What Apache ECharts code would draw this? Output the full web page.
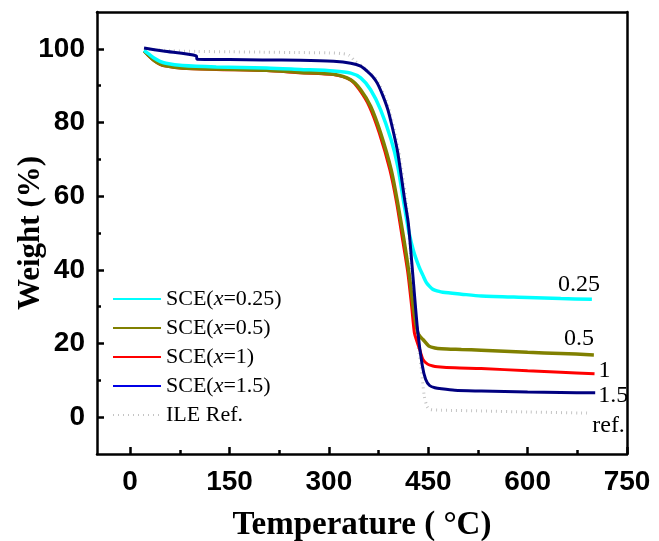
<!DOCTYPE html>
<html>
<head>
<meta charset="utf-8">
<script src="https://cdn.jsdelivr.net/npm/echarts@6/dist/echarts.min.js"></script>
<style>
  html, body { margin: 0; padding: 0; background: #fff; }
  #chart { width: 659px; height: 541px; }
</style>
</head>
<body>
<div id="chart"></div>
<script>
// Thermogravimetric curves: temperature (°C) vs remaining weight (%)
const sce025Temp   = [21, 28, 36, 45, 54, 79, 130, 206, 257, 307, 333, 348, 363, 378, 394, 404, 413, 421, 428, 436, 442, 447, 452, 457, 465, 472, 500, 530, 600, 650, 697];
const sce025Weight = [99.6, 98.6, 97.5, 96.6, 96.1, 95.5, 95.1, 94.8, 94.4, 94.0, 93.4, 92.1, 88.9, 83.5, 75.3, 68.1, 58.3, 50.1, 45.0, 40.9, 38.5, 36.6, 35.5, 34.7, 34.2, 33.9, 33.4, 32.9, 32.5, 32.2, 32.0];

const sce05Temp   = [21, 28, 36, 45, 54, 79, 130, 206, 257, 307, 333, 348, 363, 378, 394, 404, 413, 421, 428, 434, 438, 442, 451, 460, 470, 500, 530, 600, 650, 700];
const sce05Weight = [99.5, 98.2, 96.9, 95.9, 95.4, 94.8, 94.5, 94.2, 93.6, 93.1, 91.6, 88.9, 84.4, 77.2, 67.2, 58.0, 48.5, 39.0, 29.0, 23.0, 21.8, 21.1, 19.3, 18.8, 18.6, 18.4, 18.2, 17.6, 17.3, 16.9];

const sce1Temp   = [21, 28, 36, 45, 54, 79, 130, 206, 257, 307, 333, 346, 361, 376, 392, 402, 411, 419, 425, 429, 433, 437, 442, 449, 457, 464, 490, 530, 600, 650, 701];
const sce1Weight = [99.4, 98.1, 96.8, 95.8, 95.3, 94.7, 94.4, 94.1, 93.5, 93.0, 91.5, 88.9, 84.4, 77.2, 67.2, 58.5, 48.5, 39.5, 30.0, 23.0, 20.5, 18.4, 15.7, 14.4, 13.9, 13.7, 13.4, 13.2, 12.6, 12.2, 11.8];

const sce15Temp   = [21, 50, 100, 101, 150, 200, 257, 307, 333, 348, 358, 366, 373, 381, 389, 396, 404, 414, 420, 427, 434, 441, 446, 452, 460, 470, 490, 530, 600, 650, 702];
const sce15Weight = [100.2, 99.4, 98.1, 97.2, 97.1, 97.0, 96.9, 96.6, 96.1, 95.3, 93.9, 92.5, 90.7, 87.5, 83.5, 78.5, 71.8, 59.5, 52.5, 38.0, 23.5, 14.0, 10.3, 8.6, 8.0, 7.7, 7.3, 7.1, 6.8, 6.7, 6.6];

const ileTemp   = [21, 60, 100, 150, 200, 250, 300, 320, 330, 340, 350, 360, 368, 375, 383, 391, 398, 406, 416, 423, 432, 439, 444, 448, 452, 470, 530, 600, 693];
const ileWeight = [100.0, 99.5, 99.3, 99.2, 99.1, 99.0, 98.9, 98.7, 98.3, 96.6, 95.3, 93.9, 92.5, 90.7, 87.5, 83.5, 78.5, 71.8, 59.5, 45.0, 23.0, 13.8, 5.7, 3.0, 2.1, 1.9, 1.7, 1.4, 1.1];

// Axis ticks and labels
const xMajorTicks = [0, 150, 300, 450, 600, 750];
const xMinorTicks = [75, 225, 375, 525, 675];
const yMajorTicks = [0, 20, 40, 60, 80, 100];
const yMinorTicks = [10, 30, 50, 70, 90];

const seriesNames = ['SCE(x=0.25)', 'SCE(x=0.5)', 'SCE(x=1)', 'SCE(x=1.5)', 'ILE Ref.'];
const endTags = ['0.25', '0.5', '1', '1.5', 'ref.'];

const zip = (t, w) => t.map((v, i) => [v, w[i]]);

const sans = 'Liberation Sans, Arial, sans-serif';
const serif = 'Liberation Serif, Times New Roman, serif';
const axisColor = '#000';

function endTag(text, offset) {
  return {
    show: true,
    formatter: text,
    distance: 0,
    offset: offset,
    fontFamily: serif,
    fontSize: 24,
    color: '#000'
  };
}

function curve(name, temp, weight, color, width, z, tag, offset, dash) {
  return {
    name: name,
    type: 'line',
    xAxisIndex: 0,
    yAxisIndex: 0,
    data: zip(temp, weight),
    showSymbol: false,
    symbol: 'none',
    smooth: 0.25,
    z: z,
    lineStyle: { color: color, width: width, type: dash || 'solid' },
    itemStyle: { color: color },
    endLabel: endTag(tag, offset)
  };
}

function frameAxis(position, min, max) {
  return {
    type: 'value', min: min, max: max, position: position,
    axisLine: { show: true, onZero: false, lineStyle: { color: axisColor, width: 2.5 } },
    axisTick: { show: false }, axisLabel: { show: false }, splitLine: { show: false }
  };
}

function minorAxis(position, min, max, ticks) {
  return {
    type: 'value', min: min, max: max, position: position,
    axisLine: { show: false, onZero: false },
    axisTick: { show: true, inside: true, length: 4, customValues: ticks, lineStyle: { color: axisColor, width: 2.5 } },
    axisLabel: { show: false },
    splitLine: { show: false }
  };
}

const chart = echarts.init(document.getElementById('chart'), null, { renderer: 'canvas' });

const option = {
  animation: false,
  backgroundColor: '#fff',
  grid: { left: 97, right: 32, top: 12, bottom: 87, containLabel: false, outerBoundsMode: 'none' },
  xAxis: [
    {
      type: 'value', min: -50, max: 750, position: 'bottom',
      axisLine: { show: true, onZero: false, lineStyle: { color: axisColor, width: 2.5 } },
      axisTick: { show: true, inside: true, length: 7, customValues: xMajorTicks, lineStyle: { color: axisColor, width: 2.5 } },
      axisLabel: { customValues: xMajorTicks, fontFamily: sans, fontWeight: 'bold', fontSize: 28, color: '#000', margin: 14 },
      splitLine: { show: false },
      name: 'Temperature ( °C)', nameLocation: 'middle', nameGap: 55,
      nameTextStyle: { fontFamily: serif, fontWeight: 'bold', fontSize: 33, color: '#000' }
    },
    minorAxis('bottom', -50, 750, xMinorTicks),
    frameAxis('top', -50, 750)
  ],
  yAxis: [
    {
      type: 'value', min: -10, max: 110, position: 'left',
      axisLine: { show: true, onZero: false, lineStyle: { color: axisColor, width: 2.5 } },
      axisTick: { show: true, inside: true, length: 7, customValues: yMajorTicks, lineStyle: { color: axisColor, width: 2.5 } },
      axisLabel: { customValues: yMajorTicks, fontFamily: sans, fontWeight: 'bold', fontSize: 28, color: '#000', margin: 12 },
      splitLine: { show: false },
      name: 'Weight (%)', nameLocation: 'middle', nameGap: 51, nameMoveOverlap: false,
      nameTextStyle: { fontFamily: serif, fontWeight: 'bold', fontSize: 31, color: '#000' }
    },
    minorAxis('left', -10, 110, yMinorTicks),
    frameAxis('right', -10, 110)
  ],
  legend: {
    orient: 'vertical',
    left: 112,
    top: 288,
    padding: 0,
    itemWidth: 48,
    itemHeight: 14,
    itemGap: 7,
    itemStyle: { opacity: 0 },
    data: [
      { name: seriesNames[0] },
      { name: seriesNames[1] },
      { name: seriesNames[2] },
      { name: seriesNames[3], lineStyle: { color: '#0000e6' } },
      { name: seriesNames[4] }
    ],
    formatter: n => n.replace('x=', '{i|x}='),
    textStyle: {
      fontFamily: serif, fontSize: 22, color: '#000', lineHeight: 22,
      rich: { i: { fontFamily: serif, fontStyle: 'italic', fontSize: 22, color: '#000' } }
    }
  },
  series: [
    curve(seriesNames[4], ileTemp, ileWeight, '#c4c4c4', 3, 1, endTags[4], [3, 13], [1, 4]),
    curve(seriesNames[2], sce1Temp, sce1Weight, '#ff0000', 3, 2, endTags[2], [4, -3]),
    curve(seriesNames[1], sce05Temp, sce05Weight, '#808000', 3.5, 3, endTags[1], [-30, -16]),
    curve(seriesNames[0], sce025Temp, sce025Weight, '#00ffff', 3.5, 4, endTags[0], [-34, -15]),
    curve(seriesNames[3], sce15Temp, sce15Weight, '#000080', 3, 5, endTags[3], [3, 3])
  ]
};

chart.setOption(option);
</script>
</body>
</html>
